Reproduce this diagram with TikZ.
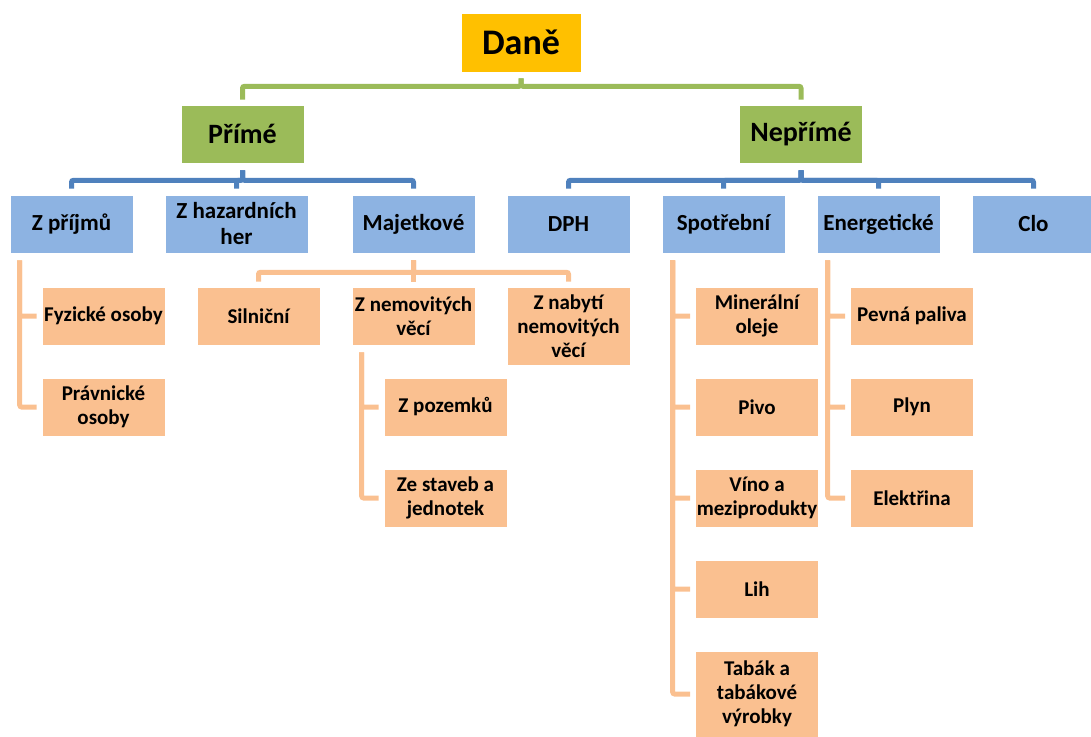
\documentclass[tikz,border=0pt]{standalone}
\usepackage{fontspec}
\setmainfont{Carlito}
\definecolor{dgold}{HTML}{FFC000}
\definecolor{dgreen}{HTML}{9BBB59}
\definecolor{dblue}{HTML}{8DB3E2}
\definecolor{lblue}{HTML}{4F81BD}
\definecolor{dorange}{HTML}{FAC090}
\begin{document}
\begin{tikzpicture}[x=1pt,y=-1pt,
  baseBox/.style={rectangle, draw=white, line width=0.6pt, inner sep=0pt, align=center,
    minimum width=123pt, minimum height=58pt, text=black},
  daneBox/.style={baseBox, fill=dgold, font=\bfseries\fontsize{36}{40}\selectfont,
    minimum width=120pt, minimum height=59pt},
  greenBox/.style={baseBox, fill=dgreen, font=\bfseries\fontsize{28}{32}\selectfont},
  blueBox/.style={baseBox, fill=dblue, font=\bfseries\fontsize{23}{26}\selectfont},
  orangeBox/.style={baseBox, fill=dorange, font=\bfseries\fontsize{21}{24}\selectfont},
  gLine/.style={draw=dgreen, line width=5pt, rounded corners=2pt},
  bLine/.style={draw=lblue, line width=5pt, rounded corners=2pt},
  oLine/.style={draw=dorange, line width=5pt, rounded corners=2pt}
]
\useasboundingbox (0,0) rectangle (1091,736);

% level 0
\node[daneBox] (dane) at (521,42.5) {Daně};
% level 1
\node[greenBox] (prime) at (242.5,134) {Přímé};
\node[greenBox] (nep) at (801,134) {Nepřímé};
% level 2
\node[blueBox] (zp) at (71.5,224) {Z příjmů};
\node[blueBox, minimum width=143pt] (zh) at (236.5,224) {Z hazardních\\her};
\node[blueBox] (maj) at (413.5,224) {Majetkové};
\node[blueBox] (dph) at (568.5,224) {DPH};
\node[blueBox] (sp) at (723.5,224) {Spotřební};
\node[blueBox] (en) at (878.5,224) {Energetické};
\node[blueBox] (clo) at (1033.5,224) {Clo};
% level 3
\node[orangeBox] (fyz) at (103.5,316) {Fyzické osoby};
\node[orangeBox] (prav) at (103.5,407) {Právnické\\osoby};
\node[orangeBox] (sil) at (258.5,316) {Silniční};
\node[orangeBox] (znem) at (413.5,316) {Z nemovitých\\věcí};
\node[orangeBox, minimum height=78pt] (znab) at (568.5,326) {Z nabytí\\nemovitých\\věcí};
\node[orangeBox] (poz) at (445.5,407) {Z pozemků};
\node[orangeBox] (stav) at (445.5,498) {Ze staveb a\\jednotek};
\node[orangeBox] (minol) at (757,316) {Minerální\\oleje};
\node[orangeBox] (pivo) at (757,407) {Pivo};
\node[orangeBox] (vino) at (757,498) {Víno a\\meziprodukty};
\node[orangeBox] (lih) at (757,589) {Lih};
\node[orangeBox, minimum height=86pt] (tab) at (757,694) {Tabák a\\tabákové\\výrobky};
\node[orangeBox] (pev) at (912,316) {Pevná paliva};
\node[orangeBox] (plyn) at (912,407) {Plyn};
\node[orangeBox] (ele) at (912,498) {Elektřina};

% green connectors
\draw[gLine, shorten <=6pt, shorten >=5pt] (dane.south) -- ++(0,14) -| (prime.north);
\draw[gLine, shorten <=6pt, shorten >=5pt] (dane.south) -- ++(0,14) -| (nep.north);

% blue connectors
\foreach \c in {zp,zh,maj}
  \draw[bLine, shorten <=7pt, shorten >=6pt] (prime.south) -- ++(0,17) -| (\c.north);
\foreach \c in {dph,sp,en,clo}
  \draw[bLine, shorten <=7pt, shorten >=6pt] (nep.south) -- ++(0,17) -| (\c.north);

% orange connectors, Majetkove
\foreach \c in {sil,znem,znab}
  \draw[oLine, shorten <=7pt, shorten >=5pt] (maj.south) -- ++(0,19) -| (\c.north);

% side connectors
\foreach \c in {fyz,prav}
  \draw[oLine, shorten <=7pt, shorten >=5pt] ([xshift=10pt]zp.south west) |- (\c.west);
\foreach \c in {poz,stav}
  \draw[oLine, shorten <=7pt, shorten >=5pt] ([xshift=10pt]znem.south west) |- (\c.west);
\foreach \c in {minol,pivo,vino,lih,tab}
  \draw[oLine, shorten <=7pt, shorten >=5pt] ([xshift=11pt]sp.south west) |- (\c.west);
\foreach \c in {pev,plyn,ele}
  \draw[oLine, shorten <=7pt, shorten >=5pt] ([xshift=11pt]en.south west) |- (\c.west);
\end{tikzpicture}
\end{document}
